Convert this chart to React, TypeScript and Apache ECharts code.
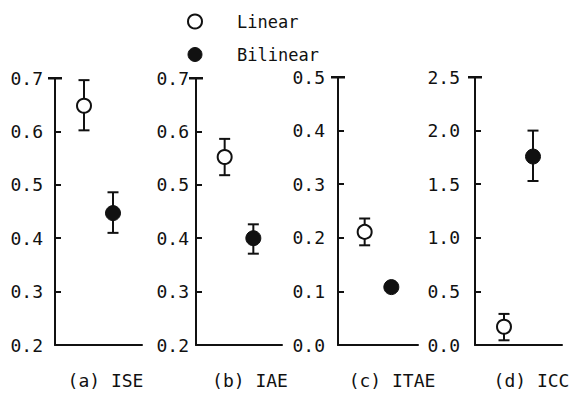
import React, { useEffect, useRef } from "react";
import * as echarts from "echarts";

const categories = ["(a) ISE", "(b) IAE", "(c) ITAE", "(d) ICC"];
const seriesNames = ["Linear", "Bilinear"];
const linearMean = [0.648, 0.552, 0.211, 0.17];
const linearLow = [0.602, 0.518, 0.186, 0.044];
const linearHigh = [0.696, 0.586, 0.236, 0.29];
const bilinearMean = [0.447, 0.4, 0.108, 1.758];
const bilinearLow = [0.41, 0.371, 0.108, 1.53];
const bilinearHigh = [0.486, 0.426, 0.108, 2.0];
const yMin = [0.2, 0.2, 0, 0];
const yMax = [0.7, 0.7, 0.5, 2.5];
const yStep = [0.1, 0.1, 0.1, 0.5];

const FONT = "DejaVu Sans Mono";
const INK = "#111";

export default function App() {
  const ref = useRef<HTMLDivElement>(null);
  useEffect(() => {
    if (!ref.current) return;
    const chart = echarts.init(ref.current, null, { renderer: "svg" });
    const grids = [
      { left: 55, top: 78, width: 87, height: 281 },
      { left: 196, top: 78, width: 86, height: 281 },
      { left: 338, top: 77, width: 80, height: 283 },
      { left: 475, top: 77, width: 87, height: 283 },
    ];
    const labelMargin = [12, 7, 13, 15];
    const nameShift = [14, 22, 28, 26];

    const openStyle = { color: "#fff", borderColor: INK, borderWidth: 2, opacity: 1 };
    const filledStyle = { color: INK, borderColor: INK, borderWidth: 1, opacity: 1 };

    const xAxis = categories.map((c, i) => ({
      type: "value",
      gridIndex: i,
      min: 0,
      max: 3,
      name: c,
      nameLocation: "middle",
      nameGap: 26,
      nameTextStyle: {
        fontFamily: FONT,
        fontSize: 18,
        color: INK,
        padding: [0, 0, 0, nameShift[i]],
      },
      axisLine: { show: true, onZero: false, lineStyle: { color: INK, width: 2 } },
      axisTick: { show: false },
      axisLabel: { show: false },
      splitLine: { show: false },
    }));

    const yAxis = categories.map((c, i) => ({
      type: "value",
      gridIndex: i,
      min: yMin[i],
      max: yMax[i],
      interval: yStep[i],
      axisLine: { show: true, onZero: false, lineStyle: { color: INK, width: 2 } },
      axisTick: { show: true, inside: true, length: 6, lineStyle: { color: INK, width: 2 } },
      axisLabel: {
        fontFamily: FONT,
        fontSize: 18,
        color: INK,
        margin: labelMargin[i],
        formatter: (v: number) => v.toFixed(1),
      },
      splitLine: { show: false },
    }));

    const errorRender = (params: any, api: any) => {
      const x = api.value(0);
      const lo = api.value(1);
      const hi = api.value(2);
      if (lo === hi) return { type: "group", children: [] };
      const pLo = api.coord([x, lo]);
      const pHi = api.coord([x, hi]);
      const style = { stroke: INK, lineWidth: 2 };
      const cap = 5.5;
      return {
        type: "group",
        children: [
          { type: "line", shape: { x1: pLo[0], y1: pLo[1], x2: pHi[0], y2: pHi[1] }, style },
          { type: "line", shape: { x1: pLo[0] - cap, y1: pLo[1], x2: pLo[0] + cap, y2: pLo[1] }, style },
          { type: "line", shape: { x1: pHi[0] - cap, y1: pHi[1], x2: pHi[0] + cap, y2: pHi[1] }, style },
        ],
      };
    };

    const series: any[] = [];
    categories.forEach((c, i) => {
      series.push({
        type: "custom",
        xAxisIndex: i,
        yAxisIndex: i,
        renderItem: errorRender,
        data: [
          [1, linearLow[i], linearHigh[i]],
          [2, bilinearLow[i], bilinearHigh[i]],
        ],
        z: 2,
        silent: true,
      });
      series.push({
        type: "scatter",
        name: seriesNames[0],
        xAxisIndex: i,
        yAxisIndex: i,
        symbol: "circle",
        symbolSize: 14,
        itemStyle: openStyle,
        data: [[1, linearMean[i]]],
        z: 5,
      });
      series.push({
        type: "scatter",
        name: seriesNames[1],
        xAxisIndex: i,
        yAxisIndex: i,
        symbol: "circle",
        symbolSize: 15,
        itemStyle: filledStyle,
        data: [[2, bilinearMean[i]]],
        z: 5,
      });
    });

    // top caps of the y axes ("T" shape), at each grid's top-left corner
    const caps = grids.map((g) => ({
      type: "rect",
      left: g.left - 7,
      top: g.top - 1,
      shape: { width: 14, height: 2.5 },
      style: { fill: INK },
      z: 100,
    }));

    chart.setOption({
      animation: false,
      backgroundColor: "#fff",
      legend: {
        data: [
          { name: seriesNames[0], icon: "circle", itemStyle: openStyle },
          { name: seriesNames[1], icon: "circle", itemStyle: filledStyle },
        ],
        orient: "vertical",
        left: 182,
        top: 8,
        itemWidth: 14,
        itemHeight: 14,
        itemGap: 16,
        textStyle: { fontFamily: FONT, fontSize: 17, color: INK, padding: [0, 0, 0, 30] },
      },
      grid: grids,
      xAxis,
      yAxis,
      series,
      graphic: { elements: caps },
    });

    return () => chart.dispose();
  }, []);
  return (
    <div
      ref={ref}
      style={{ position: "fixed", left: 0, top: 0, width: 574, height: 394 }}
    />
  );
}
